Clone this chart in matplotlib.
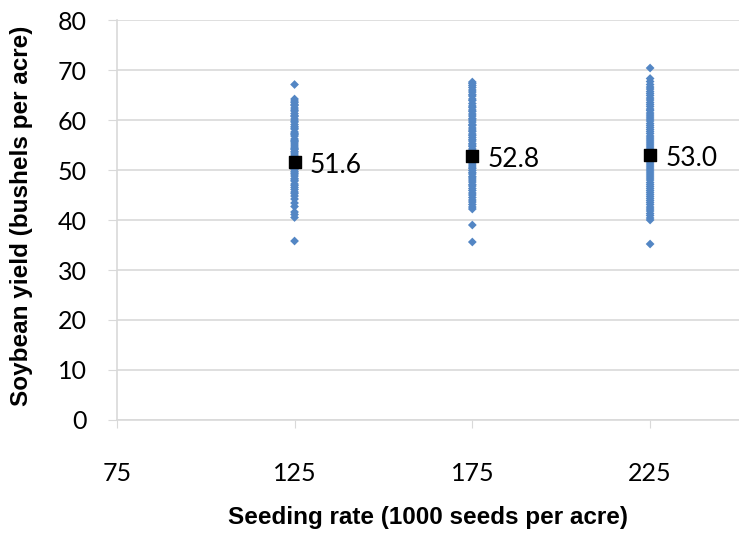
import matplotlib
matplotlib.use("Agg")
import matplotlib.pyplot as plt

# seeding rates (1000 seeds per acre) and yield observations (bu/acre)
rates = [125, 175, 225]
means = [51.6, 52.8, 53.0]

g125 = [67.1, 64.2, 63.8, 63.5, 63.1, 62.9, 62.4, 62.0, 61.8, 61.3, 60.9, 60.7,
        60.2, 59.8, 59.6, 59.1, 58.7, 58.4, 58.2, 57.6, 57.3, 57.1, 56.8, 56.2,
        55.9, 55.7, 55.4, 55.0, 54.6, 54.3, 54.1, 53.7, 53.4, 53.0, 52.7, 52.5,
        52.2, 51.9, 51.6, 51.3, 51.0, 50.8, 50.3, 50.1, 49.7, 49.4, 49.2, 48.8,
        48.3, 48.0, 47.8, 47.2, 46.9, 46.5, 46.1, 45.6, 45.3, 44.8, 44.2, 43.4,
        42.7, 41.6, 41.1, 40.5, 35.8]
g175 = [67.6, 67.3, 66.9, 66.5, 66.0, 65.6, 65.1, 64.8, 64.2, 63.9, 63.3, 62.8,
        62.5, 62.0, 61.7, 61.2, 60.8, 60.3, 60.0, 59.6, 59.1, 58.9, 58.4, 58.0,
        57.7, 57.2, 56.9, 56.5, 56.1, 55.8, 55.3, 55.0, 54.7, 54.2, 53.9, 53.5,
        53.2, 52.8, 52.4, 52.1, 51.7, 51.4, 51.0, 50.6, 50.3, 49.9, 49.5, 49.2,
        48.7, 48.4, 48.0, 47.6, 47.1, 46.8, 46.3, 45.9, 45.4, 45.0, 44.5, 44.0,
        43.6, 43.1, 42.6, 42.2, 39.0, 35.6]
g225 = [70.4, 68.3, 67.7, 67.1, 66.6, 66.2, 65.7, 65.3, 64.9, 64.4, 64.0, 63.5,
        63.1, 62.7, 62.2, 61.9, 61.4, 61.0, 60.6, 60.2, 59.8, 59.3, 58.9, 58.5,
        58.1, 57.7, 57.3, 56.8, 56.4, 56.0, 55.6, 55.2, 54.8, 54.4, 54.0, 53.6,
        53.2, 52.8, 52.4, 52.0, 51.6, 51.2, 50.8, 50.4, 50.0, 49.6, 49.2, 48.8,
        48.4, 48.0, 47.5, 47.1, 46.7, 46.3, 45.9, 45.5, 45.1, 44.7, 44.3, 43.9,
        43.5, 43.1, 42.6, 42.2, 41.8, 41.3, 40.9, 40.4, 40.0, 35.2]
groups = [g125, g175, g225]

x_ticks = [75, 125, 175, 225]
y_ticks = list(range(0, 81, 10))

tick_font = ["Lato", "DejaVu Sans"]
label_font = ["Liberation Sans Narrow", "Liberation Sans", "DejaVu Sans"]

fig = plt.figure(figsize=(7.39, 5.34), dpi=100)
ax = fig.add_axes([0.158, 0.2135, 0.842, 0.749])

for r, vals in zip(rates, groups):
    ax.scatter([r] * len(vals), vals, marker="D", s=20, color="#5386C4",
               edgecolors="none", zorder=3)

ax.scatter(rates, means, marker="s", s=80, color="black", zorder=4)
for r, m in zip(rates, means):
    ax.text(r + 4.3, m - 0.6, f"{m:.1f}", fontsize=19, family=tick_font,
            va="center", ha="left", zorder=5)

ax.set_xlim(75, 250)
ax.set_ylim(0, 80)
ax.set_xticks(x_ticks)
ax.set_yticks(y_ticks)
ax.set_xticklabels([str(t) for t in x_ticks], fontsize=18, family=tick_font)
ax.set_yticklabels([str(t) for t in y_ticks], fontsize=18, family=tick_font)

ax.yaxis.grid(True, color="#D9D9D9", linewidth=1.2)
ax.set_axisbelow(True)
for s in ["top", "right"]:
    ax.spines[s].set_visible(False)
for s in ["left", "bottom"]:
    ax.spines[s].set_color("#D9D9D9")
    ax.spines[s].set_linewidth(1.2)
ax.tick_params(axis="y", length=6.5, color="#D9D9D9", pad=15)
ax.tick_params(axis="x", length=6, color="#D9D9D9", pad=24)

ax.set_xlabel("Seeding rate (1000 seeds per acre)", fontsize=17.5,
              fontweight="bold", family=label_font)
ax.set_ylabel("Soybean yield (bushels per acre)", fontsize=17.5,
              fontweight="bold", family=label_font)
ax.xaxis.set_label_coords(0.5, -0.215)
ax.yaxis.set_label_coords(-0.135, 0.51)

fig.savefig("out.png", dpi=100)
